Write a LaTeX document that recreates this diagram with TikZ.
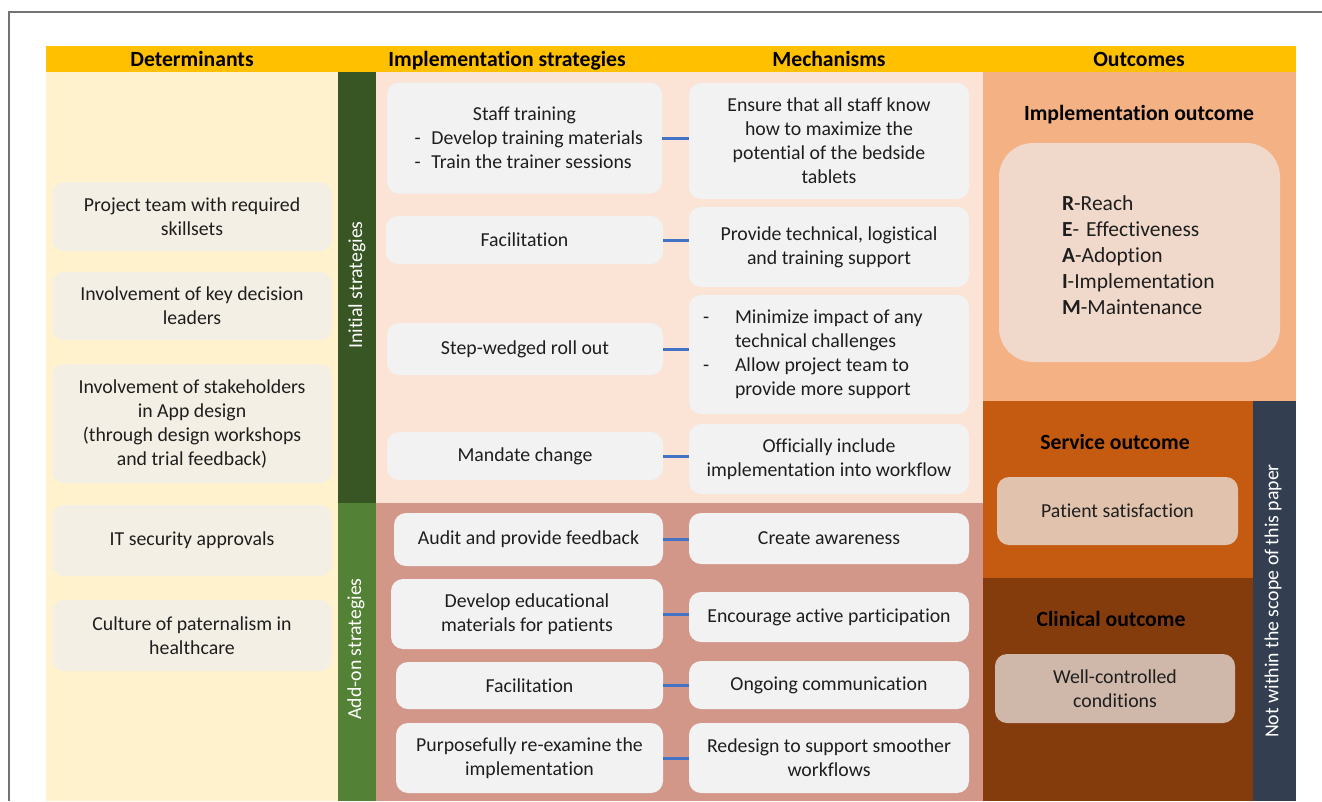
\documentclass[tikz,border=0pt]{standalone}
\usepackage{fontspec}
\setmainfont{Carlito}[Ligatures=NoCommon]

\definecolor{hdryellow}{HTML}{FFC000}
\definecolor{detfill}{HTML}{FFF2CC}
\definecolor{detboxfill}{HTML}{F4EFE5}
\definecolor{initgreen}{HTML}{375623}
\definecolor{addgreen}{HTML}{538135}
\definecolor{initfill}{HTML}{FBE4D6}
\definecolor{addfill}{HTML}{D3978A}
\definecolor{boxgray}{HTML}{F2F2F2}
\definecolor{implfill}{HTML}{F4B183}
\definecolor{reaimfill}{HTML}{F0D9CB}
\definecolor{servfill}{HTML}{C55A11}
\definecolor{servbox}{HTML}{E0C2AD}
\definecolor{clinfill}{HTML}{843C0C}
\definecolor{clinbox}{HTML}{CFB8A9}
\definecolor{scopefill}{HTML}{333F50}
\definecolor{linkblue}{HTML}{4472C4}
\definecolor{ink}{HTML}{1E1E1E}

% left-aligned bullet line (and its continuation) of a given width
\newcommand{\dashline}[3]{\makebox[#1][l]{\makebox[#2][l]{-}#3}}
\newcommand{\contline}[3]{\makebox[#1][l]{\hspace*{#2}#3}}

\begin{document}
\begin{tikzpicture}[
  x=1pt, y=-1pt,
  font=\fontsize{19.8}{24}\selectfont,
  hdr/.style={anchor=base, text=black, inner sep=0pt, font=\fontsize{21.7}{26}\selectfont\bfseries},
  box/.style={inner sep=0pt, outer sep=0pt, rounded corners=12pt, align=center, text=ink},
  detbox/.style={box, fill=detboxfill, minimum width=280},
  sbox/.style={box, fill=boxgray},
  mbox/.style={sbox, minimum width=280},
  side/.style={rotate=90, text=white, inner sep=0pt},
  link/.style={draw=linkblue, line width=3pt}
]

\useasboundingbox (0,0) rectangle (1322,801);
\fill[white] (0,0) rectangle (1322,801);
\draw[black!55, line width=1.4pt] (9,801) -- (9,12) -- (1322,12);

% Header bar with the four column titles.
\fill[hdryellow] (46,46) rectangle (1296,72);
\node[hdr] (hdet)  at (192,66)  {Determinants};
\node[hdr] (hstr)  at (507,66)  {Implementation strategies};
\node[hdr] (hmech) at (829,66)  {Mechanisms};
\node[hdr] (hout)  at (1139,66) {Outcomes};

% Column backgrounds.
\fill[detfill]   (46,72)    rectangle (338,801);
\fill[initgreen] (338,72)   rectangle (376,503);
\fill[addgreen]  (338,503)  rectangle (376,801);
\fill[initfill]  (376,72)   rectangle (983,503);
\fill[addfill]   (376,503)  rectangle (983,801);
\fill[implfill]  (983,72)   rectangle (1296,401);
\fill[servfill]  (983,401)  rectangle (1253,578);
\fill[clinfill]  (983,578)  rectangle (1253,801);
\fill[scopefill] (1253,401) rectangle (1296,801);

\node[side] (initlab)  at (357,285) {Initial strategies};
\node[side] (addlab)   at (356,649) {Add-on strategies};
\node[side] (scopelab) at (1273,601) {Not within the scope of this paper};

% Determinants.
\node[detbox, minimum height=69]  (d1) at (192,216.5) {Project team with required\\skillsets};
\node[detbox, minimum height=68]  (d2) at (192,306)   {Involvement of key decision\\leaders};
\node[detbox, minimum height=119] (d3) at (192,423.5) {Involvement of stakeholders\\in App design\\(through design workshops\\and trial feedback)};
\node[detbox, minimum height=71]  (d4) at (192,540.5) {IT security approvals};
\node[detbox, minimum height=71]  (d5) at (192,635.5) {Culture of paternalism in\\healthcare};

% Implementation strategies.
\node[sbox, minimum width=275, minimum height=111] (s1) at (524.5,138)
  {Staff training\\\dashline{220pt}{17pt}{Develop training materials}\\\dashline{220pt}{17pt}{Train the trainer sessions}};
\node[sbox, minimum width=277, minimum height=48] (s2) at (524.5,240)   {Facilitation};
\node[sbox, minimum width=276, minimum height=52] (s3) at (525,349)     {Step-wedged roll out};
\node[sbox, minimum width=276, minimum height=48] (s4) at (525,456)     {Mandate change};
\node[sbox, minimum width=269, minimum height=53] (s5) at (528.5,539.5) {Audit and provide feedback};
\node[sbox, minimum width=272, minimum height=70] (s6) at (527,614)     {Develop educational\\materials for patients};
\node[sbox, minimum width=267, minimum height=47] (s7) at (529.5,685.5) {Facilitation};
\node[sbox, minimum width=267, minimum height=70] (s8) at (529.5,758)   {Purposefully re-examine the\\implementation};

% Mechanisms.
\node[mbox, minimum height=116] (m1) at (829,141)   {Ensure that all staff know\\how to maximize the\\potential of the bedside\\tablets};
\node[mbox, minimum height=80]  (m2) at (829,247)   {Provide technical, logistical\\and training support};
\node[mbox, minimum height=119] (m3) at (829,354.5)
  {\dashline{252pt}{32pt}{Minimize impact of any}\\\contline{252pt}{32pt}{technical challenges}\\\dashline{252pt}{32pt}{Allow project team to}\\\contline{252pt}{32pt}{provide more support}};
\node[mbox, minimum height=70]  (m4) at (829,459)   {Officially include\\implementation into workflow};
\node[mbox, minimum height=51]  (m5) at (829,538.5) {Create awareness};
\node[mbox, minimum height=50]  (m6) at (829,617)   {Encourage active participation};
\node[mbox, minimum height=48]  (m7) at (829,685)   {Ongoing communication};
\node[mbox, minimum height=70]  (m8) at (829,758)   {Redesign to support smoother\\workflows};

\foreach \i in {1,...,8}
  \draw[link] (s\i.east) -- (s\i.east -| m\i.west);

% Outcomes.
\node[hdr] (implhd) at (1139,120) {Implementation outcome};
\node[box, fill=reaimfill, rounded corners=34pt, minimum width=281, minimum height=219] (reaim) at (1139.5,252.5) {};
\node[text width=155pt, align=left, inner sep=0pt, text=ink, font=\fontsize{21.5}{26}\selectfont] (reaimtxt) at (1139.5,255)
  {\textbf{R}-Reach\\\textbf{E}- Effectiveness\\\textbf{A}-Adoption\\\textbf{I}-Implementation\\\textbf{M}-Maintenance};

\node[hdr] (servhd) at (1115,449) {Service outcome};
\node[box, fill=servbox, minimum width=241, minimum height=68] (patsat) at (1117.5,511) {Patient satisfaction};

\node[hdr] (clinhd) at (1111,626) {Clinical outcome};
\node[box, fill=clinbox, minimum width=240, minimum height=69] (wellctl) at (1115,688.5) {Well-controlled\\conditions};

\end{tikzpicture}
\end{document}
